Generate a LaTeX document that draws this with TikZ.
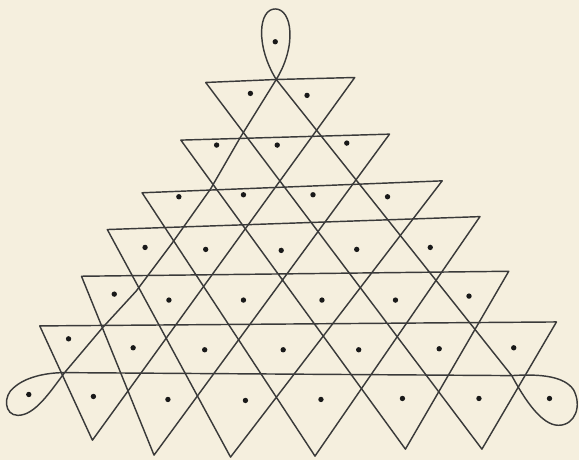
\documentclass[tikz,border=0pt]{standalone}
\definecolor{paper}{RGB}{245,239,222}
\definecolor{ink}{RGB}{58,58,58}
\begin{document}
\begin{tikzpicture}[x=1pt,y=-1pt,
  kline/.style={draw=ink,line width=1.45pt,line join=round,line cap=round},
  kdot/.style={fill=black!90}]
\fill[paper] (0,0) rectangle (583,463);
% ends of the horizontal strokes
\coordinate (A0L) at (207,83);  \coordinate (A0R) at (357,78);  \coordinate (TOP) at (278,80);
\coordinate (A1L) at (182,141); \coordinate (A1R) at (392,135);
\coordinate (A2L) at (143,194); \coordinate (A2R) at (445,182);
\coordinate (A3L) at (108,231); \coordinate (A3R) at (483,218);
\coordinate (A4L) at (82,278);  \coordinate (A4R) at (512,273);
\coordinate (A5L) at (40,328);  \coordinate (A5R) at (560,324);
\coordinate (A6L) at (65,375);  \coordinate (A6R) at (515,378);
% bottom points of the V shapes
\coordinate (V1) at (93,443);  \coordinate (V2) at (155,458); \coordinate (V3) at (232,460);
\coordinate (V4) at (317,459); \coordinate (V5) at (408,452); \coordinate (V6) at (485,452);
% bends of the long diagonal from the top loop
\coordinate (t1) at (242,138); \coordinate (t2) at (212,190); \coordinate (t3) at (173,245);
\coordinate (t4) at (137,293); \coordinate (t5) at (103,330);
% strokes
\draw[kline] (A5L) -- (V1) -- (A0R) -- (TOP) -- (A0L) -- (V6) -- (A5R) -- cycle;
\draw[kline] (A4L) -- (V2) -- (A1R) -- (A1L) -- (V5) -- (A4R) -- cycle;
\draw[kline] (A3L) -- (V3) -- (A2R) -- (A2L) -- (V4) -- (A3R) -- cycle;
\draw[kline] (TOP) -- (t1) -- (t2) -- (t3) -- (t4) -- (t5) -- (A6L)
  .. controls (50,395) and (35,418) .. (18,418)
  .. controls (4,418) and (3,398) .. (14,390)
  .. controls (25,380) and (45,375) .. (A6L)
  -- (A6R)
  .. controls (545,376) and (568,379) .. (577,392)
  .. controls (586,408) and (579,428) .. (562,428)
  .. controls (545,428) and (528,402) .. (A6R)
  -- (TOP)
  .. controls (257,46) and (260,9) .. (277,9)
  .. controls (294,9) and (299,46) .. (TOP);
% dots
\foreach \px/\py in {277/42,
  252/94, 309/96,
  218/146, 279/146, 349/144,
  180/198, 245/196, 315/196, 390/198,
  146/249, 207/251, 283/252, 359/251, 433/249,
  115/296, 170/302, 245/302, 324/302, 398/302, 472/298,
  69/341, 134/350, 206/352, 285/352, 361/352, 442/351, 517/350,
  29/397, 94/399, 169/402, 247/403, 323/402, 405/401, 482/401, 553/401}
  \fill[kdot] (\px,\py) circle (2.7pt);
\end{tikzpicture}
\end{document}
